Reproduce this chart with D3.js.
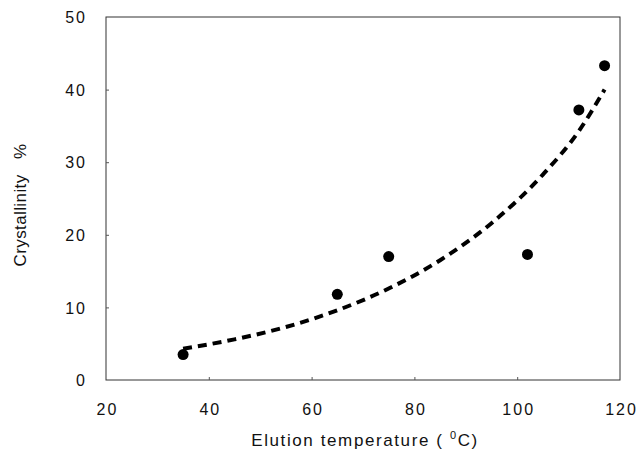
<!DOCTYPE html>
<html><head><meta charset="utf-8">
<script src="https://cdn.jsdelivr.net/npm/d3@7"></script>
<style>body{margin:0;background:#fff}svg{display:block}text{font-family:Arial,"Liberation Sans",sans-serif;fill:#111}</style>
</head><body><svg width="642" height="450"></svg>
<script>
const xTicks = [20, 40, 60, 80, 100, 120];
const yTicks = [0, 10, 20, 30, 40, 50];
const pointX = [35, 65, 75, 102, 112, 117];
const pointY = [3.5, 11.8, 17.0, 17.3, 37.2, 43.3];
const fitX = [35, 45, 55, 65, 75, 85, 95, 105, 112, 117];
const fitY = [4.3, 5.6, 7.3, 9.6, 12.6, 16.5, 21.6, 28.3, 34.3, 40.0];

const svg = d3.select("svg");
const L = 106, R = 620, T = 17, B = 380;
const x = d3.scaleLinear().domain([20, 120]).range([L, R]);
const y = d3.scaleLinear().domain([0, 50]).range([B, T]);

svg.append("rect").attr("x", L).attr("y", T).attr("width", R - L).attr("height", B - T)
  .attr("fill", "none").attr("stroke", "#333").attr("stroke-width", 1);

const xa = svg.append("g").attr("transform", `translate(0,${B})`)
  .call(d3.axisBottom(x).tickValues(xTicks).tickSize(-3).tickPadding(24).tickFormat(d3.format("d")));
const ya = svg.append("g").attr("transform", `translate(${L},0)`)
  .call(d3.axisLeft(y).tickValues(yTicks).tickSize(-3).tickPadding(19).tickFormat(d3.format("d")));
[xa, ya].forEach(g => {
  g.select(".domain").remove();
  g.selectAll(".tick line").attr("stroke", "#555");
  g.selectAll(".tick text").attr("font-size", 16).attr("letter-spacing", 2).attr("fill", "#111");
});
xa.selectAll(".tick text").attr("dx", 1);
ya.selectAll(".tick text").attr("dy", "0.35em");
ya.selectAll(".tick line").filter(d => d === 0 || d === 50).remove();
xa.selectAll(".tick line").filter(d => d === 20 || d === 120).remove();

const line = d3.line().x((d, i) => x(fitX[i])).y(d => y(d)).curve(d3.curveMonotoneX);
svg.append("path").attr("d", line(fitY)).attr("fill", "none").attr("stroke", "#000")
  .attr("stroke-width", 4).attr("stroke-dasharray", "9,6");

svg.selectAll("circle.pt").data(pointY).enter().append("circle")
  .attr("cx", (d, i) => x(pointX[i])).attr("cy", d => y(d)).attr("r", 5.5).attr("fill", "#000");

const xt = svg.append("text").attr("x", 365).attr("y", 446).attr("text-anchor", "middle")
  .attr("font-size", 17).attr("letter-spacing", 1.6);
xt.append("tspan").text("Elution temperature ( ");
xt.append("tspan").attr("font-size", 11).attr("dy", -7).text("0");
xt.append("tspan").attr("dy", 7).text("C)");

svg.append("text").attr("transform", "translate(26,205) rotate(-90)").attr("text-anchor", "middle")
  .attr("font-size", 17).attr("letter-spacing", 0.4).attr("xml:space", "preserve").text("Crystallinity   %");
</script></body></html>
